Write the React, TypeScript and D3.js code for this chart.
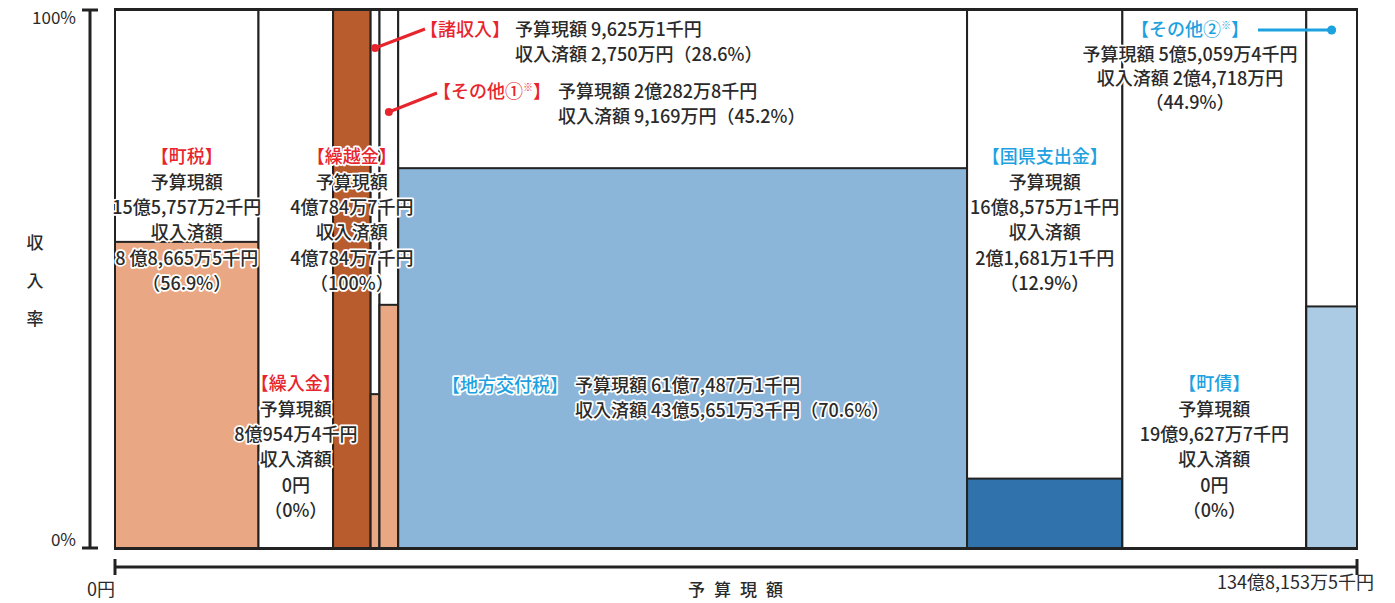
import React from "react";
import * as d3 from "d3";

// budget (万円) and collection rate (%) per revenue category
const categories = ["町税", "繰入金", "繰越金", "諸収入", "その他①", "地方交付税", "国県支出金", "町債", "その他②"];
const budgets = [155757.2, 80954.4, 40784.7, 9625.1, 20282.8, 617487.1, 168575.1, 199627.7, 55059.4];
const rates = [56.9, 0, 100, 28.6, 45.2, 70.6, 12.9, 0, 44.9];
const budgetLabels = ["15億5,757万2千円", "8億954万4千円", "4億784万7千円", "9,625万1千円", "2億282万8千円", "61億7,487万1千円", "16億8,575万1千円", "19億9,627万7千円", "5億5,059万4千円"];
const receivedLabels = ["8 億8,665万5千円", "0円", "4億784万7千円", "2,750万円", "9,169万円", "43億5,651万3千円", "2億1,681万1千円", "0円", "2億4,718万円"];
const rateLabels = ["56.9%", "0%", "100%", "28.6%", "45.2%", "70.6%", "12.9%", "0%", "44.9%"];
const yTicks = [0, 100];
const totalLabel = "134億8,153万5千円";

const fills = ["#E9A783", "#E9A783", "#B85C2E", "#E9A783", "#E9A783", "#8BB5D9", "#3073AC", "#AACBE3", "#AACBE3"];
const headColor = ["#E8242C", "#E8242C", "#E8242C", "#E8242C", "#E8242C", "#1DA1DF", "#1DA1DF", "#1DA1DF", "#1DA1DF"];

const W = 1395;
const H = 603;
const FONT = "'Noto Sans CJK JP', 'Noto Sans', sans-serif";
const INK = "#2a2a2a";
const FS = 18;

const halo = {
  stroke: "#fff",
  strokeWidth: 3.5,
  strokeLinejoin: "round" as const,
  paintOrder: "stroke",
};

export default function App() {
  const total = d3.sum(budgets);
  const x = d3.scaleLinear().domain([0, total]).range([115, 1357]);
  const y = d3.scaleLinear().domain([0, 100]).range([548, 10]);

  const starts = d3.cumsum([0, ...budgets.slice(0, -1)]);
  const cols = categories.map((c, i) => ({
    name: c,
    x0: x(starts[i]),
    x1: x(starts[i] + budgets[i]),
    rate: rates[i],
    i,
  }));
  const cx = (i: number) => (cols[i].x0 + cols[i].x1) / 2;

  const head = (text: string, note = false) => (
    <>
      {"【" + text}
      {note && (
        <tspan fontSize={10} dy={-7}>※</tspan>
      )}
      {note ? <tspan dy={7}>】</tspan> : "】"}
    </>
  );

  // stacked, centered label blocks
  const stacked = (i: number, cxp: number, top: number) => {
    const lines = ["予算現額", budgetLabels[i], "収入済額", receivedLabels[i], "（" + rateLabels[i] + "）"];
    return (
      <g key={"s" + i} textAnchor="middle" fontFamily={FONT} fontSize={FS} fontWeight={500}>
        <text x={cxp} y={top} dy="0.35em" fill={headColor[i]} {...halo}>
          {head(categories[i])}
        </text>
        {lines.map((l, k) => (
          <text key={k} x={cxp} y={top + 25.3 * (k + 1)} dy="0.35em" fill={INK} {...halo}>
            {l}
          </text>
        ))}
      </g>
    );
  };

  // heading to the left, two lines to the right
  const inline = (i: number, hx: number, tx: number, top: number, name: string, note = false) => (
    <g key={"i" + i} fontFamily={FONT} fontSize={FS} fontWeight={500}>
      <text x={hx} y={top} dy="0.35em" textAnchor="end" fill={headColor[i]} {...halo}>
        {head(name, note)}
      </text>
      <text x={tx} y={top} dy="0.35em" fill={INK} {...halo}>
        {"予算現額 " + budgetLabels[i]}
      </text>
      <text x={tx} y={top + 25} dy="0.35em" fill={INK} {...halo}>
        {"収入済額 " + receivedLabels[i] + "（" + rateLabels[i] + "）"}
      </text>
    </g>
  );

  return (
    <svg width={W} height={H} style={{ display: "block", position: "absolute", left: 0, top: 0, background: "#fff" }}>
      {/* columns */}
      {cols.map((c) => (
        <g key={c.name}>
          <rect x={c.x0} y={y(100)} width={c.x1 - c.x0} height={y(0) - y(100)} fill="#fff" stroke="#222" strokeWidth={2} />
          {c.rate > 0 && (
            <rect x={c.x0} y={y(c.rate)} width={c.x1 - c.x0} height={y(0) - y(c.rate)} fill={fills[c.i]} stroke="#222" strokeWidth={2} />
          )}
        </g>
      ))}
      <line x1={x(0) - 1} x2={x(total) + 1} y1={y(100) - 0.5} y2={y(100) - 0.5} stroke="#222" strokeWidth={3} />
      <line x1={x(0) - 1} x2={x(total) + 1} y1={y(0) + 0.5} y2={y(0) + 0.5} stroke="#222" strokeWidth={3} />

      {/* y axis */}
      <line x1={90} x2={90} y1={y(100)} y2={y(0)} stroke="#222" strokeWidth={3} />
      {yTicks.map((t) => (
        <g key={t}>
          <line x1={82} x2={98} y1={y(t)} y2={y(t)} stroke="#222" strokeWidth={3} />
          <text x={76} y={t === 100 ? y(t) + 8 : y(t) - 8} dy="0.35em" textAnchor="end" fontFamily={FONT} fontSize={17} fill={INK}>
            {t + "%"}
          </text>
        </g>
      ))}
      {["収", "入", "率"].map((ch, k) => (
        <text key={ch} x={35} y={243 + 38 * k} dy="0.35em" textAnchor="middle" fontFamily={FONT} fontSize={17} fontWeight={500} fill={INK}>
          {ch}
        </text>
      ))}

      {/* x axis */}
      <line x1={x(0)} x2={x(total)} y1={567} y2={567} stroke="#222" strokeWidth={3} />
      <line x1={x(0)} x2={x(0)} y1={559} y2={575} stroke="#222" strokeWidth={3} />
      <line x1={x(total)} x2={x(total)} y1={559} y2={575} stroke="#222" strokeWidth={3} />
      <text x={x(0)} y={590} dy="0.35em" textAnchor="end" fontFamily={FONT} fontSize={18} fill={INK}>0円</text>
      <text x={(x(0) + x(total)) / 2 + 4} y={590} dy="0.35em" textAnchor="middle" fontFamily={FONT} fontSize={17} fontWeight={500} fill={INK} letterSpacing={9}>
        予算現額
      </text>
      <text x={1374} y={583} dy="0.35em" textAnchor="end" fontFamily={FONT} fontSize={18} fill={INK}>{totalLabel}</text>

      {/* leader lines */}
      <line x1={425} y1={29} x2={cx(3)} y2={48} stroke="#E8242C" strokeWidth={3} />
      <circle cx={cx(3)} cy={48} r={4} fill="#E8242C" />
      <line x1={437} y1={93} x2={cx(4)} y2={112} stroke="#E8242C" strokeWidth={3} />
      <circle cx={cx(4)} cy={112} r={4} fill="#E8242C" />
      <line x1={1258} y1={30} x2={cx(8)} y2={30} stroke="#1DA1DF" strokeWidth={3} />
      <circle cx={cx(8)} cy={30} r={4.5} fill="#1DA1DF" />

      {/* labels */}
      {stacked(0, cx(0), 157)}
      {stacked(2, cx(2), 157)}
      {stacked(6, cx(6), 157)}
      {stacked(1, cx(1), 384)}
      {stacked(7, cx(7), 384)}
      {inline(3, 510, 515, 30, "諸収入")}
      {inline(4, 551, 558, 92, "その他①", true)}
      {inline(5, 568, 575, 386, "地方交付税")}

      <g fontFamily={FONT} fontSize={FS} fontWeight={500} textAnchor="middle">
        <text x={1190} y={30} dy="0.35em" fill={headColor[8]} {...halo}>{head("その他②", true)}</text>
        <text x={1190} y={55} dy="0.35em" fill={INK} {...halo}>{"予算現額 " + budgetLabels[8]}</text>
        <text x={1190} y={79} dy="0.35em" fill={INK} {...halo}>{"収入済額 " + receivedLabels[8]}</text>
        <text x={1190} y={103} dy="0.35em" fill={INK} {...halo}>{"（" + rateLabels[8] + "）"}</text>
      </g>
    </svg>
  );
}
